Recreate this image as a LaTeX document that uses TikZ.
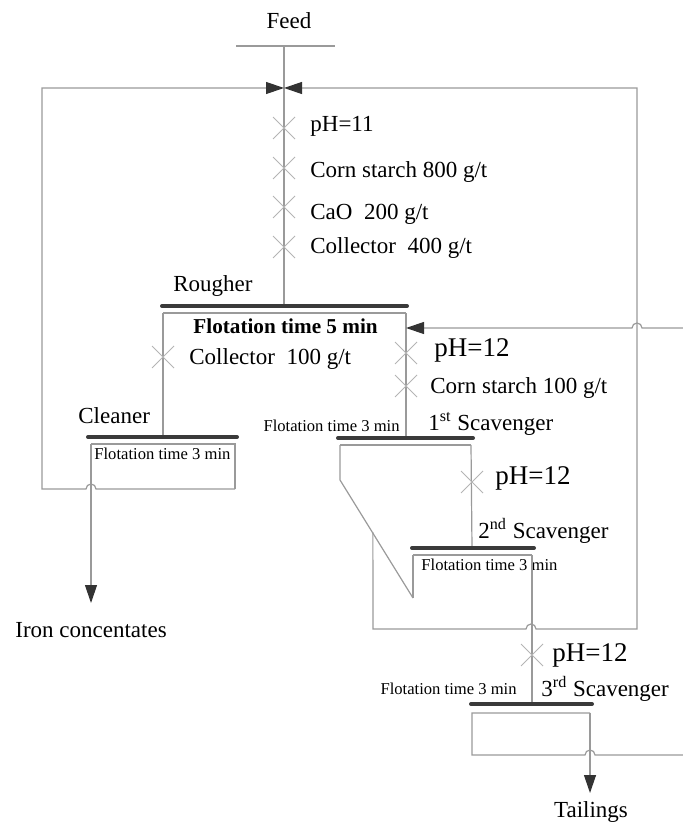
\documentclass[tikz,border=0pt]{standalone}
\usepackage{fontspec}
\setmainfont{Liberation Serif}
\usetikzlibrary{arrows.meta, calc, shapes.misc}
\definecolor{PipeGray}{HTML}{9A9A9A}
\definecolor{DoseGray}{HTML}{B4B4B4}
\definecolor{CellBar}{HTML}{3A3A3A}
\definecolor{TipDark}{HTML}{333333}

\begin{document}
\begin{tikzpicture}[x=0.5pt, y=-0.5pt,
        pipe/.style={draw=PipeGray, line width=0.6pt},
        flow/.style={pipe, -{Triangle[length=9pt, width=6pt, color=TipDark, fill=TipDark]}},
        cellbar/.style={draw=CellBar, line width=2pt, line cap=round},
        dose/.style={cross out, draw=DoseGray, line width=0.5pt, minimum size=10.5pt, inner sep=0pt},
        lbl/.style={anchor=base west, inner sep=0pt, font=\fontsize{11.5}{13}\selectfont},
        phlbl/.style={lbl, font=\fontsize{13.5}{15}\selectfont},
        timelbl/.style={lbl, font=\fontsize{8.3}{10}\selectfont}
    ]
    \useasboundingbox (0,0) rectangle (683,823);

    % Feed and mixing point
    \coordinate (feedL) at (236,46);
    \coordinate (feedR) at (335,46);
    \coordinate (feedIn) at (284,46);
    \coordinate (mix) at (284,88);
    \node[lbl, anchor=base] (feed) at (289,29) {Feed};
    \draw[pipe] (feedL) -- (feedR);

    % Rougher cell
    \coordinate (roBarL) at (162,306);
    \coordinate (roBarR) at (407,306);
    \coordinate (roIn) at (284,306);
    \coordinate (roL) at (163,313);
    \coordinate (roR) at (406,313);
    \draw[pipe] (feedIn) -- (roIn);
    \draw[cellbar] (roBarL) -- (roBarR);
    \draw[pipe] (roL) -- (roR);
    \node[lbl] (rougher) at (173,292) {Rougher};
    \node[lbl, font=\fontsize{10.6}{12}\selectfont\bfseries] (rotime) at (193,333) {Flotation time 5 min};

    % Reagents on the feed line
    \foreach \i/\yc/\yt/\txt in {1/128/132/{pH=11}, 2/168/178/{Corn starch 800 g/t},
            3/207/220/{CaO\ \ 200 g/t}, 4/247/254/{Collector\ \ 400 g/t}} {
        \node[dose] (rd\i) at (284,\yc) {};
        \node[lbl] (rt\i) at (310,\yt) {\txt};
    }

    % Cleaner cell
    \coordinate (clBarL) at (88,437);
    \coordinate (clBarR) at (237,437);
    \coordinate (clIn) at (163,437);
    \coordinate (clL) at (91,444);
    \coordinate (clR) at (235,444);
    \coordinate (clBR) at (235,489);
    \coordinate (conc) at (91,603);
    \draw[pipe] (roL) -- (clIn);
    \node[dose] (cd) at (163,357) {};
    \node[lbl] (ct) at (189,364) {Collector\ \ 100 g/t};
    \draw[cellbar] (clBarL) -- (clBarR);
    \draw[pipe] (clL) -- (clR) -- (clBR);
    \node[lbl] (cleaner) at (78,423) {Cleaner};
    \node[timelbl] (cltime) at (94,459) {Flotation time 3 min};
    \draw[flow] (clL) -- (conc);
    \node[lbl] (ironconc) at (15,637) {Iron concentates};

    % Cleaner tailings back to feed
    \coordinate (loopLB) at (42,489);
    \coordinate (loopLT) at (42,88);
    \draw[flow] (clBR) -- (96,489) arc[start angle=0, end angle=-180, radius=5]
        -- (loopLB) -- (loopLT) -- (mix);

    % 1st scavenger
    \coordinate (s1BarL) at (338,438);
    \coordinate (s1BarR) at (473,438);
    \coordinate (s1In) at (406,438);
    \coordinate (s1L) at (340,445);
    \coordinate (s1R) at (471,445);
    \coordinate (chuteA) at (340,480);
    \coordinate (chuteB) at (413,598);
    \draw[pipe] (roR) -- (s1In);
    \node[dose] (s1d1) at (406,353) {};
    \node[phlbl] (s1t1) at (434,356) {pH=12};
    \node[dose] (s1d2) at (406,386) {};
    \node[lbl] (s1t2) at (430,393) {Corn starch 100 g/t};
    \draw[cellbar] (s1BarL) -- (s1BarR);
    \draw[pipe] (s1L) -- (s1R);
    \draw[pipe] (s1L) -- (chuteA) -- (chuteB);
    \node[lbl] (scav1) at (428,430) {1\textsuperscript{st} Scavenger};
    \node[timelbl, anchor=base east] (s1time) at (400,431) {Flotation time 3 min};

    % 2nd scavenger
    \coordinate (s2BarL) at (412,548);
    \coordinate (s2BarR) at (534,548);
    \coordinate (s2In) at (472,548);
    \coordinate (s2L) at (413,555);
    \coordinate (s2R) at (532,555);
    \draw[pipe] (s1R) -- (s2In);
    \node[dose] (s2d) at (472,482) {};
    \node[phlbl] (s2t) at (495,484) {pH=12};
    \draw[cellbar] (s2BarL) -- (s2BarR);
    \draw[pipe] (s2L) -- (s2R);
    \draw[pipe] (s2L) -- (chuteB);
    \node[lbl] (scav2) at (478,538) {2\textsuperscript{nd} Scavenger};
    \node[timelbl] (s2time) at (421,570) {Flotation time 3 min};

    % Scavenger froth back to feed
    \coordinate (loopRA) at ($(chuteA)!0.45!(chuteB)$);
    \coordinate (loopRB) at (373,629);
    \coordinate (loopRC) at (637,629);
    \coordinate (loopRT) at (637,88);
    \draw[flow] (loopRA |- 0,532) -- (loopRB) -- (526,629) arc[start angle=180, end angle=360, radius=5]
        -- (loopRC) -- (loopRT) -- (mix);

    % 3rd scavenger
    \coordinate (s3BarL) at (471,704);
    \coordinate (s3BarR) at (592,704);
    \coordinate (s3In) at (532,704);
    \coordinate (s3L) at (472,713);
    \coordinate (s3R) at (590,713);
    \coordinate (s3BL) at (472,755);
    \coordinate (tail) at (590,793);
    \draw[pipe] (s2R) -- (s3In);
    \node[dose] (s3d) at (532,655) {};
    \node[phlbl] (s3t) at (552,661) {pH=12};
    \draw[cellbar] (s3BarL) -- (s3BarR);
    \draw[pipe] (s3R) -- (s3L) -- (s3BL) -- (585,755)
        arc[start angle=180, end angle=360, radius=5] -- (683,755);
    \node[lbl] (scav3) at (541,696) {3\textsuperscript{rd} Scavenger};
    \node[timelbl, anchor=base east] (s3time) at (517,694) {Flotation time 3 min};
    \draw[flow] (s3R) -- (tail);
    \node[lbl, anchor=base] (tailings) at (591,817) {Tailings};

    % 3rd scavenger froth into rougher
    \coordinate (retIn) at (683,328);
    \coordinate (roSide) at (406,328);
    \draw[flow] (retIn) -- (642,328) arc[start angle=0, end angle=-180, radius=5] -- (roSide);

\end{tikzpicture}
\end{document}
